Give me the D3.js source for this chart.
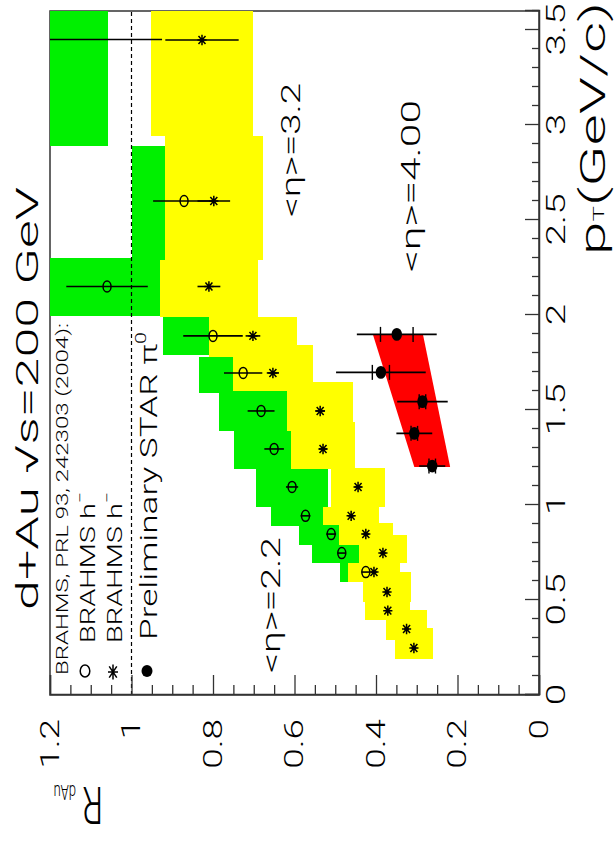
<!DOCTYPE html>
<html>
<head>
<meta charset="utf-8">
<script src="https://cdn.jsdelivr.net/npm/d3@7"></script>
<style>
  html, body { margin: 0; padding: 0; background: #fff; }
  svg { display: block; }
  svg text { font-family: Roboto, Lato, "Liberation Sans", Arial, sans-serif; font-weight: 300; }
</style>
</head>
<body>
<svg id="chart" width="615" height="844"></svg>
<script>
// ---------------- data ----------------
// BRAHMS h- at <eta> = 2.2 (open circles, green systematic boxes)
const ptEta22    = [0.647, 0.747, 0.847, 0.943, 1.095, 1.295, 1.495, 1.695, 1.89, 2.15, 2.60, 3.45];
const rEta22     = [0.425, 0.484, 0.510, 0.573, 0.606, 0.650, 0.682, 0.726, 0.800, 1.060, 0.871, 1.330];
const statEta22  = [0.010, 0.010, 0.012, 0.012, 0.015, 0.024, 0.033, 0.047, 0.073, 0.100, 0.076, 0.405];
const sysEta22   = [0.063, 0.073, 0.079, 0.085, 0.088, 0.098, 0.103, 0.108, 0.123, 0.150, 0.128, 0.272];
const binLoEta22 = [0.595, 0.695, 0.790, 0.890, 0.990, 1.190, 1.390, 1.590, 1.790, 1.995, 2.300, 2.890];
const binHiEta22 = [0.695, 0.790, 0.890, 0.990, 1.190, 1.390, 1.590, 1.780, 1.990, 2.300, 2.890, 4.000];

// BRAHMS h- at <eta> = 3.2 (stars, yellow systematic boxes)
const ptEta32    = [0.247, 0.347, 0.444, 0.542, 0.647, 0.747, 0.847, 0.943, 1.095, 1.295, 1.495, 1.695, 1.89, 2.15, 2.60, 3.447];
const rEta32     = [0.307, 0.325, 0.371, 0.373, 0.405, 0.383, 0.425, 0.461, 0.444, 0.530, 0.537, 0.653, 0.702, 0.810, 0.798, 0.827];
const statEta32  = [0.006, 0.006, 0.006, 0.006, 0.007, 0.007, 0.008, 0.008, 0.009, 0.010, 0.012, 0.015, 0.018, 0.028, 0.040, 0.090];
const sysEta32   = [0.047, 0.050, 0.055, 0.059, 0.064, 0.059, 0.066, 0.068, 0.067, 0.079, 0.081, 0.099, 0.107, 0.120, 0.120, 0.125];
const binLoEta32 = [0.189, 0.289, 0.395, 0.489, 0.595, 0.695, 0.790, 0.895, 0.990, 1.190, 1.390, 1.600, 1.780, 1.990, 2.290, 2.940];
const binHiEta32 = [0.353, 0.447, 0.489, 0.647, 0.695, 0.842, 0.905, 0.990, 1.195, 1.437, 1.647, 1.840, 1.990, 2.290, 2.940, 4.000];

// Preliminary STAR pi0 at <eta> = 4.00 (filled circles, red systematic band)
const ptStar    = [1.205, 1.377, 1.544, 1.698, 1.898];
const rStar     = [0.262, 0.306, 0.286, 0.388, 0.349];
const errStar   = [0.032, 0.044, 0.062, 0.110, 0.098];
const innerStar = [0.008, 0.008, 0.008, 0.021, 0.040];
const bandPt    = [1.2, 1.9];
const bandHi    = [0.306, 0.408];
const bandLo    = [0.218, 0.285];

// axis ticks
const ptTicks = [0, 0.5, 1, 1.5, 2, 2.5, 3, 3.5];
const rTicks  = [0, 0.2, 0.4, 0.6, 0.8, 1, 1.2];

// ---------------- layout ----------------
// The figure is laid out landscape (844 x 615) and turned a quarter turn
// counter-clockwise onto the portrait page.
const W = 844;
const svg = d3.select('#chart');
const root = svg.append('g').attr('transform', `translate(0,${W}) rotate(-90)`);

const x = d3.scaleLinear().domain([0, 3.6]).range([149, 833]);
const y = d3.scaleLinear().domain([0, 1.2]).range([539, 50]);

const GREEN = '#00f000', YELLOW = '#ffff00', RED = '#ff0000';

function stretchBy(sel, k) {
  sel.each(function () {
    const n = this.getComputedTextLength();
    d3.select(this).attr('textLength', n * k).attr('lengthAdjust', 'spacingAndGlyphs');
  });
}
function stretchTo(sel, len) {
  sel.attr('textLength', len).attr('lengthAdjust', 'spacingAndGlyphs');
}

root.append('defs').append('clipPath').attr('id', 'plotClip')
  .append('rect')
  .attr('x', x(0)).attr('y', y(1.2))
  .attr('width', x(3.6) - x(0)).attr('height', y(0) - y(1.2));

// frame
root.append('rect')
  .attr('x', x(0)).attr('y', y(1.2))
  .attr('width', x(3.6) - x(0)).attr('height', y(0) - y(1.2))
  .attr('fill', 'none').attr('stroke', '#333').attr('stroke-width', 1.5);

const plot = root.append('g').attr('clip-path', 'url(#plotClip)');

// systematic boxes
function boxes(lo, hi, r, sys, color) {
  plot.append('g').attr('shape-rendering', 'crispEdges')
    .selectAll('rect').data(r).join('rect')
    .attr('x', (d, i) => x(lo[i]))
    .attr('width', (d, i) => x(hi[i]) - x(lo[i]))
    .attr('y', (d, i) => y(d + sys[i]))
    .attr('height', (d, i) => y(d - sys[i]) - y(d + sys[i]))
    .attr('fill', color);
}
boxes(binLoEta22, binHiEta22, rEta22, sysEta22, GREEN);
boxes(binLoEta32, binHiEta32, rEta32, sysEta32, YELLOW);

// STAR systematic band
const band = d3.area()
  .x((d, i) => x(bandPt[i]))
  .y0((d, i) => y(bandLo[i]))
  .y1((d, i) => y(bandHi[i]));
plot.append('path').attr('d', band(bandPt)).attr('fill', RED);

// reference line at R = 1
plot.append('line')
  .attr('x1', x(0)).attr('x2', x(3.6))
  .attr('y1', y(1)).attr('y2', y(1))
  .attr('stroke', '#000').attr('stroke-width', 1.2)
  .attr('stroke-dasharray', '4,3');

// statistical error bars
function errBars(pt, r, err) {
  plot.append('g').selectAll('line').data(r).join('line')
    .attr('x1', (d, i) => x(pt[i])).attr('x2', (d, i) => x(pt[i]))
    .attr('y1', (d, i) => y(d - err[i])).attr('y2', (d, i) => y(d + err[i]))
    .attr('stroke', '#000').attr('stroke-width', 1.6);
}
errBars(ptEta22, rEta22, statEta22);
errBars(ptEta32, rEta32, statEta32);
errBars(ptStar, rStar, errStar);

// inner error caps on the STAR points
const caps = plot.append('g');
ptStar.forEach((p, i) => {
  [rStar[i] - innerStar[i], rStar[i] + innerStar[i]].forEach(v => {
    caps.append('line')
      .attr('x1', x(p) - 7.5).attr('x2', x(p) + 7.5)
      .attr('y1', y(v)).attr('y2', y(v))
      .attr('stroke', '#000').attr('stroke-width', 1.4);
  });
});

// marker shapes
function starPath(cx, cy, a, b) {
  const c = a * 0.76, e = b * 0.76;
  return `M${cx - a},${cy}L${cx + a},${cy}` +
         `M${cx},${cy - b}L${cx},${cy + b}` +
         `M${cx - c},${cy - e}L${cx + c},${cy + e}` +
         `M${cx - c},${cy + e}L${cx + c},${cy - e}`;
}
function openCircle(g, cx, cy, rx, ry) {
  g.append('ellipse').attr('cx', cx).attr('cy', cy).attr('rx', rx).attr('ry', ry)
    .attr('fill', 'none').attr('stroke', '#000').attr('stroke-width', 1.5);
}
function star(g, cx, cy, a, b) {
  g.append('path').attr('d', starPath(cx, cy, a, b))
    .attr('stroke', '#000').attr('stroke-width', 1.5).attr('fill', 'none');
}
function dot(g, cx, cy, rx, ry) {
  g.append('ellipse').attr('cx', cx).attr('cy', cy).attr('rx', rx).attr('ry', ry)
    .attr('fill', '#000');
}

const marks = plot.append('g');
ptEta22.forEach((p, i) => openCircle(marks, x(p), y(rEta22[i]), 5.5, 4));
ptEta32.forEach((p, i) => star(marks, x(p), y(rEta32[i]), 5.2, 4.6));
ptStar.forEach((p, i) => dot(marks, x(p), y(rStar[i]), 6.4, 5.2));

// ---------------- axes ----------------
const ptMinor = d3.range(0, 3.601, 0.1).filter(v => Math.abs(v * 2 - Math.round(v * 2)) > 1e-6);
const rMinor  = d3.range(0, 1.2001, 0.05).filter(v => Math.abs(v * 5 - Math.round(v * 5)) > 1e-6);

const xAxis = root.append('g').attr('transform', `translate(0,${y(0)})`)
  .call(d3.axisBottom(x).tickValues(ptTicks).tickFormat(d => String(d))
    .tickSize(-14).tickPadding(8));
root.append('g').attr('transform', `translate(0,${y(0)})`)
  .call(d3.axisBottom(x).tickValues(ptMinor).tickFormat('').tickSize(-7))
  .select('.domain').remove();

const yAxis = root.append('g').attr('transform', `translate(${x(0)},0)`)
  .call(d3.axisLeft(y).tickValues(rTicks).tickFormat(d => String(d))
    .tickSize(-20).tickPadding(24));
root.append('g').attr('transform', `translate(${x(0)},0)`)
  .call(d3.axisLeft(y).tickValues(rMinor).tickFormat('').tickSize(-10))
  .select('.domain').remove();

root.selectAll('.domain').attr('stroke', '#333').attr('stroke-width', 1.5);
root.selectAll('.tick line').attr('stroke', '#333').attr('stroke-width', 1.3);

xAxis.selectAll('text').attr('font-size', 25).attr('fill', '#000').attr('font-family', null);
yAxis.selectAll('text').attr('font-size', 26).attr('fill', '#000').attr('font-family', null);
stretchBy(xAxis.selectAll('text'), 1.55);
stretchBy(yAxis.selectAll('text'), 1.42);

// axis titles
const ptTitle = root.append('text')
  .attr('x', 589).attr('y', 605)
  .attr('font-size', 35).attr('fill', '#000');
ptTitle.append('tspan').text('p');
ptTitle.append('tspan').attr('font-size', 15).attr('dy', -1).text('T');
ptTitle.append('tspan').attr('dy', 1).text('(GeV/c)');
stretchTo(ptTitle, 253);

const rTitle = root.append('g').attr('transform', 'translate(57,103) rotate(-90) scale(1,1.55)');
const rText = rTitle.append('text').attr('x', 0).attr('y', 0).attr('font-size', 33).attr('fill', '#000');
rText.append('tspan').text('R');
rText.append('tspan').attr('font-size', 13).attr('dx', 6).attr('dy', 1).text('dAu');

// ---------------- title, legend and labels ----------------
const title = root.append('text').attr('x', 234).attr('y', 38)
  .attr('font-size', 32).attr('fill', '#000').text('d+Au √s=200 GeV');
stretchTo(title, 423);

const legHead = root.append('text').attr('x', 169).attr('y', 68)
  .attr('font-size', 16).attr('fill', '#000').text('BRAHMS, PRL 93, 242303 (2004):');
stretchTo(legHead, 352);

const legend = root.append('g');
openCircle(legend, 173, 85, 6, 4.8);
star(legend, 172, 113, 7.5, 5);
dot(legend, 173, 147, 6, 5.5);

function hMinus(yb) {
  const t = legend.append('text').attr('x', 201).attr('y', yb)
    .attr('font-size', 21).attr('fill', '#000');
  t.append('tspan').text('BRAHMS h');
  t.append('tspan').attr('font-size', 14).attr('dy', -10).text('−');
  stretchTo(t, 151);
}
hMinus(95);
hMinus(122);

const starLeg = legend.append('text').attr('x', 204).attr('y', 157)
  .attr('font-size', 23).attr('fill', '#000');
starLeg.append('tspan').text('Preliminary STAR π');
starLeg.append('tspan').attr('font-size', 14).attr('dy', -11).text('0');
stretchTo(starLeg, 308);

function etaLabel(x0, yb, txt, len) {
  const t = root.append('text').attr('x', x0).attr('y', yb)
    .attr('font-size', 25).attr('fill', '#000').text(txt);
  stretchTo(t, len);
}
etaLabel(171, 280, '<η>=2.2', 136);
etaLabel(627, 300, '<η>=3.2', 134);
etaLabel(572, 420, '<η>=4.00', 172);
</script>
</body>
</html>
